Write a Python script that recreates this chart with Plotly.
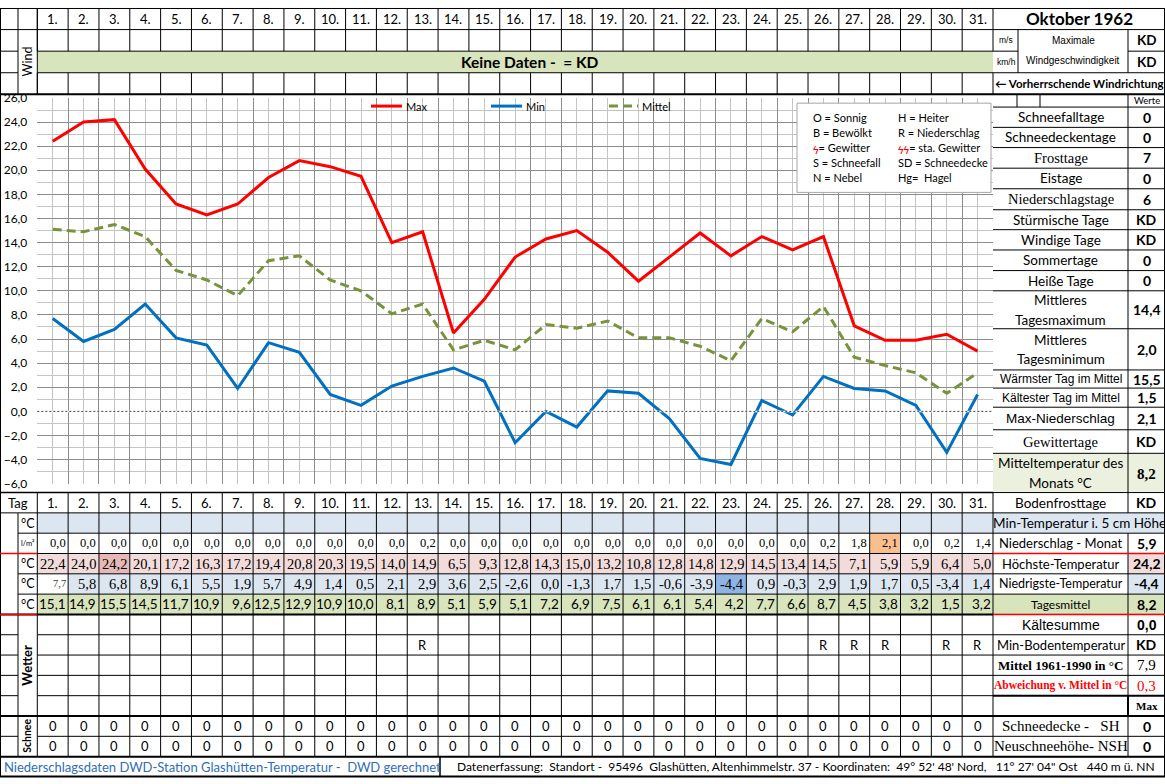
import plotly.graph_objects as go

W, H = 1165, 784

# ---------------- data ----------------
month_title = "Oktober 1962"
days = list(range(1, 32))
day_labels = [f"{d}." for d in days]
t_max = [22.4, 24.0, 24.2, 20.1, 17.2, 16.3, 17.2, 19.4, 20.8, 20.3, 19.5, 14.0, 14.9, 6.5, 9.3,
         12.8, 14.3, 15.0, 13.2, 10.8, 12.8, 14.8, 12.9, 14.5, 13.4, 14.5, 7.1, 5.9, 5.9, 6.4, 5.0]
t_min = [7.7, 5.8, 6.8, 8.9, 6.1, 5.5, 1.9, 5.7, 4.9, 1.4, 0.5, 2.1, 2.9, 3.6, 2.5,
         -2.6, 0.0, -1.3, 1.7, 1.5, -0.6, -3.9, -4.4, 0.9, -0.3, 2.9, 1.9, 1.7, 0.5, -3.4, 1.4]
t_mean = [15.1, 14.9, 15.5, 14.5, 11.7, 10.9, 9.6, 12.5, 12.9, 10.9, 10.0, 8.1, 8.9, 5.1, 5.9,
          5.1, 7.2, 6.9, 7.5, 6.1, 6.1, 5.4, 4.2, 7.7, 6.6, 8.7, 4.5, 3.8, 3.2, 1.5, 3.2]
precip = [0.0, 0.0, 0.0, 0.0, 0.0, 0.0, 0.0, 0.0, 0.0, 0.0, 0.0, 0.0, 0.2, 0.0, 0.0,
          0.0, 0.0, 0.0, 0.0, 0.0, 0.0, 0.0, 0.0, 0.0, 0.0, 0.2, 1.8, 2.1, 0.0, 0.2, 1.4]
weather = ["", "", "", "", "", "", "", "", "", "", "", "", "R", "", "",
           "", "", "", "", "", "", "", "", "", "", "R", "R", "R", "", "R", "R"]
snow_depth = [0, 0, 0, 0, 0, 0, 0, 0, 0, 0, 0, 0, 0, 0, 0, 0,
              0, 0, 0, 0, 0, 0, 0, 0, 0, 0, 0, 0, 0, 0, 0]
new_snow = [0, 0, 0, 0, 0, 0, 0, 0, 0, 0, 0, 0, 0, 0, 0, 0,
            0, 0, 0, 0, 0, 0, 0, 0, 0, 0, 0, 0, 0, 0, 0]

summary_up_labels = ["Schneefalltage", "Schneedeckentage", "Frosttage", "Eistage", "Niederschlagstage",
                     "Stürmische Tage", "Windige Tage", "Sommertage", "Heiße Tage",
                     "Mittleres<br>Tagesmaximum", "Mittleres<br>Tagesminimum",
                     "Wärmster Tag im Mittel", "Kältester Tag im Mittel", "Max-Niederschlag",
                     "Gewittertage", "Mitteltemperatur des<br>Monats °C", "Bodenfrosttage"]
summary_up_values = ["0", "0", "7", "0", "6", "KD", "KD", "0", "0", "14,4", "2,0",
                     "15,5", "1,5", "2,1", "KD", "8,2", "KD"]
summary_low_labels = ["Min-Temperatur i. 5 cm Höhe", "Niederschlag - Monat", "Höchste-Temperatur",
                      "Niedrigste-Temperatur", "Tagesmittel", "Kältesumme", "Min-Bodentemperatur",
                      "Mittel 1961-1990 in °C", "Abweichung v. Mittel in °C", "",
                      "Schneedecke -\u00a0\u00a0\u00a0SH", "Neuschneehöhe- NSH"]
summary_low_values = ["", "5,9", "24,2", "-4,4", "8,2", "0,0", "KD", "7,9", "0,3", "Max", "0", "0"]

legend_items = [("O = Sonnig", "H = Heiter"), ("B = Bewölkt", "R = Niederschlag"),
                ("<span style='color:#FF0000'>ϟ</span>= Gewitter",
                 "<span style='color:#FF0000'>ϟϟ</span>= sta. Gewitter"),
                ("S = Schneefall", "SD = Schneedecke"), ("N = Nebel", "Hg=\u00a0 Hagel")]
footer_left = "Niederschlagsdaten DWD-Station Glashütten-Temperatur -\u00a0 DWD gerechnet"
footer_right = ("Datenerfassung:\u00a0 Standort -\u00a0 95496\u00a0 Glashütten, Altenhimmelstr. 37 - "
                "Koordinaten:\u00a0 49° 52' 48' Nord,\u00a0\u00a0 11° 27' 04\" Ost\u00a0\u00a0 440 m ü. NN")

# ---------------- helpers ----------------
CAL = "Lato, 'Open Sans', sans-serif"
SER = "'Liberation Serif', 'DejaVu Serif', serif"
ARI = "'Liberation Sans', Arial, sans-serif"
shapes, ann = [], []


def X(x):
    return x / W


def Y(y):
    return 1 - y / H


def rect(x0, y0, x1, y1, fill, layer="below", border=None):
    shapes.append(dict(type="rect", xref="paper", yref="paper", x0=X(x0), x1=X(x1), y0=Y(y1), y1=Y(y0),
                       fillcolor=fill, layer=layer,
                       line=dict(width=1 if border else 0, color=border or "rgba(0,0,0,0)")))


def hl(y, x0, x1, color="#000", w=1):
    shapes.append(dict(type="line", xref="paper", yref="paper", x0=X(x0), x1=X(x1), y0=Y(y), y1=Y(y),
                       line=dict(color=color, width=w), layer="above"))


def vl(x, y0, y1, color="#000", w=1):
    shapes.append(dict(type="line", xref="paper", yref="paper", x0=X(x), x1=X(x), y0=Y(y0), y1=Y(y1),
                       line=dict(color=color, width=w), layer="above"))


def txt(x, y, s, size=13, color="#000", fam=CAL, xa="center", angle=0, bold=False):
    if s == "":
        return
    ann.append(dict(xref="paper", yref="paper", x=X(x), y=Y(y), text=f"<b>{s}</b>" if bold else s,
                    showarrow=False, xanchor=xa, yanchor="middle", textangle=angle,
                    font=dict(size=size, color=color, family=fam), borderpad=0))


def fmt(v):
    return f"{v:.1f}".replace(".", ",")


# column geometry
X0, X1 = 37.3, 993.0
CW = (X1 - X0) / 31
edges = [X0 + CW * i for i in range(32)]
cent = [X0 + CW * (i + 0.5) for i in range(31)]
RX0, RXV, RX1 = 993.0, 1128.0, 1164.5

# ---------------- top header ----------------
TY = [0, 22, 44, 66, 88]
rect(X0, TY[2], X1, TY[3], "#D8E4BC")
for e in edges:
    vl(e, TY[0], TY[2])
    vl(e, TY[3], TY[4])
vl(X0, 0, 88)
vl(18, 0, 88)
vl(0.5, 0, 784)
vl(RX1, 0, 784)
hl(0.5, 0, W)
hl(TY[1], 0, W)
hl(TY[2], 0, 18)
hl(TY[2], X0, X1)
hl(TY[2], RX0, 1018)
hl(TY[2], RXV, W)
hl(TY[3], 0, 18)
hl(TY[3], X0, W)
hl(TY[4], 0, W, w=2)
vl(1018, TY[1], TY[3])
vl(RXV, TY[1], TY[3])
for c, lab in zip(cent, day_labels):
    txt(c, 11, lab, 13)
txt(27.5, 55, "Wind", 12.5, angle=-90)
txt(530, 55, "Keine Daten -\u00a0 = KD", 15.5, bold=True)
txt(1079, 11, month_title, 17, bold=True)
txt(1006, 33, "m/s", 8.5, fam=ARI)
txt(1006, 55, "km/h", 8.5, fam=ARI)
txt(1073, 33, "Maximale", 10, fam=ARI)
txt(1073, 54, "Windgeschwindigkeit", 10, fam=ARI)
txt(1146.5, 33, "KD", 13.5, bold=True)
txt(1146.5, 55, "KD", 13.5, bold=True)
txt(1079, 77, "← Vorherrschende Windrichtung", 11.5, bold=True)

# ---------------- chart ----------------
fig = go.Figure()
fig.add_trace(go.Scatter(x=days, y=t_max, mode="lines", line=dict(color="#FF0000", width=3), name="Max"))
fig.add_trace(go.Scatter(x=days, y=t_min, mode="lines", line=dict(color="#0070C0", width=3), name="Min"))
fig.add_trace(go.Scatter(x=days, y=t_mean, mode="lines",
                         line=dict(color="#77933C", width=3, dash="9px,5px"), name="Mittel"))

# zero line dotted
shapes.append(dict(type="line", xref="paper", yref="y", x0=X(X0), x1=X(X1), y0=0, y1=0,
                   line=dict(color="#FFFFFF", width=1.5), layer="above"))
shapes.append(dict(type="line", xref="paper", yref="y", x0=X(X0), x1=X(X1), y0=0, y1=0,
                   line=dict(color="#404040", width=1, dash="2px,2px"), layer="above"))

# series legend
for (x0, x1, col, dash, lab) in [(371, 402, "#FF0000", None, "Max"), (491, 522, "#0070C0", None, "Min"),
                                 (609, 638, "#77933C", "9px,5px", "Mittel")]:
    shapes.append(dict(type="line", xref="paper", yref="paper", x0=X(x0), x1=X(x1), y0=Y(100), y1=Y(100),
                       line=dict(color=col, width=3, dash=dash) if dash else dict(color=col, width=3),
                       layer="above"))
    txt(x1 + 3, 100, lab, 11, xa="left")

# weather legend box
rect(797, 97, 991, 188, "#FFFFFF", layer="above", border="#A6A6A6")
for k, (a, b) in enumerate(legend_items):
    yy = 112 + k * 15.2
    txt(812, yy, a, 11, xa="left")
    txt(897, yy, b, 11, xa="left")

# ---------------- bottom table ----------------
RB = [494 + 20.71 * i for i in range(15)]
imax = t_max.index(max(t_max))
imin = t_min.index(min(t_min))
ipr = precip.index(max(precip))
for i in range(31):
    x0, x1 = edges[i], edges[i + 1]
    rect(x0, RB[1], x1, RB[2], "#DCE6F1")
    rect(x0, RB[3], x1, RB[4], "#E6B8B7" if i == imax else "#F2DCDB")
    rect(x0, RB[4], x1, RB[5], "#8DB4E2" if i == imin else ("#FFFFFF" if i == 0 else "#DCE6F1"))
    rect(x0, RB[5], x1, RB[6], "#D8E4BC")
    if i == ipr:
        rect(x0, RB[2], x1, RB[3], "#FABF8F")
for e in edges:
    vl(e, RB[0], RB[13])
vl(18, RB[1], RB[13])
hl(RB[0], 0, X1, w=1.5)
hl(RB[1], 0, X1)
for r in (2, 3, 4, 5):
    hl(RB[r], 18, X1)
hl(RB[3], 0, 37, color="#FF0000", w=1.5)
hl(RB[6], 0, X1, w=2)
hl(RB[6], 0, 37, color="#FF0000", w=1.5)
for r in (7, 8, 9, 10):
    hl(RB[r], 0, 18)
    hl(RB[r], X0, X1)
hl(RB[11], 0, X1, w=2)
hl(RB[12], 0, 18)
hl(RB[12], X0, X1)
hl(RB[13], 0, W, w=2)
hl(783.5, 0, W, w=2)
vl(440, RB[13], 784, w=1.5)

def rc(r):
    return (RB[r] + RB[r + 1]) / 2

txt(18, rc(0), "Tag", 13)
for r, u, s in [(1, "°C", 12.5), (2, "l/m²", 7.5), (3, "°C", 12.5), (4, "°C", 12.5), (5, "°C", 12.5)]:
    txt(27.5, rc(r), u, s)
txt(27.5, (RB[6] + RB[11]) / 2, "Wetter", 13, angle=-90, bold=True)
txt(27.5, (RB[11] + RB[13]) / 2, "Schnee", 10.5, angle=-90, bold=True)
for i in range(31):
    xr = edges[i + 1] - 1.5
    txt(cent[i], rc(0), day_labels[i], 13)
    txt(xr, rc(2), fmt(precip[i]), 12.5, fam=SER, xa="right")
    txt(xr, rc(3), fmt(t_max[i]), 14.5, fam=SER, xa="right")
    txt(xr, rc(4), fmt(t_min[i]), 10.5 if i == 0 else 14.5, fam=SER, xa="right",
        color="#404040" if i == 0 else "#000")
    txt(xr, rc(5), fmt(t_mean[i]), 13.5, xa="right")
    txt(cent[i], rc(7), weather[i], 13)
    txt(cent[i], rc(11), str(snow_depth[i]), 13)
    txt(cent[i], rc(12), str(new_snow[i]), 13)
txt(3, (RB[13] + 784) / 2, footer_left, 13, color="#2F6EB5", xa="left")
txt(456, (RB[13] + 784) / 2, footer_right, 12, xa="left")

# ---------------- right panel ----------------
RU = [101, 121.7, 142.3, 163.3, 184.3, 205.7, 226, 246.7, 267.7, 288.3, 327, 369, 387.5, 407, 430, 454,
      RB[0], RB[1]]
up_style = {"Frosttage": (SER, 14.5), "Niederschlagstage": (SER, 14.5), "Gewittertage": (SER, 14.5),
            "Wärmster Tag im Mittel": (ARI, 12), "Kältester Tag im Mittel": (ARI, 12),
            "Max-Niederschlag": (ARI, 13.5)}
rect(RX0, RU[15], RX1, RU[16], "#EBF1DE")
vl(1017, 88, 101)
vl(1040, 88, 101)
vl(RXV, 88, RB[1])
vl(RXV, RB[2], RB[13])
hl(101, RX0, W)
txt(1146.5, 94.5, "Werte", 9.5)
for k, (lab, val) in enumerate(zip(summary_up_labels, summary_up_values)):
    y0, y1 = RU[k], RU[k + 1]
    hl(y1, RX0, W)
    fam, sz = up_style.get(lab, (CAL, 13.5))
    parts = lab.split("<br>")
    if len(parts) == 1:
        txt(1060.5, (y0 + y1) / 2, lab, sz, fam=fam)
    else:
        m = (y0 + y1) / 2
        txt(1060.5, m - 10, parts[0], sz, fam=fam)
        txt(1060.5, m + 10, parts[1], sz, fam=fam)
    if "Mitteltemperatur" in lab:
        txt(1146.5, (y0 + y1) / 2 + 1, val, 15, fam=SER, bold=True)
    else:
        txt(1146.5, (y0 + y1) / 2, val, 14, bold=True)

low_style = {"Min-Temperatur i. 5 cm Höhe": (CAL, 13.5, "#000", False),
             "Niederschlag - Monat": (CAL, 13, "#000", False),
             "Höchste-Temperatur": (CAL, 13, "#000", False),
             "Niedrigste-Temperatur": (CAL, 12.5, "#000", False),
             "Tagesmittel": (CAL, 12, "#000", False),
             "Kältesumme": (ARI, 14, "#000", False),
             "Min-Bodentemperatur": (CAL, 13, "#000", False),
             "Mittel 1961-1990 in °C": (SER, 13, "#000", True),
             "Abweichung v. Mittel in °C": (SER, 11.5, "#FF0000", True)}
val_style = {"Mittel 1961-1990 in °C": (SER, 15, "#000", False),
             "Abweichung v. Mittel in °C": (SER, 15, "#FF0000", False),
             "": (SER, 11, "#000", True),
             "Kältesumme": (ARI, 14, "#000", True)}
fills = {"Min-Temperatur i. 5 cm Höhe": ("#DCE6F1", "#DCE6F1"),
         "Höchste-Temperatur": (None, "#F2DCDB"),
         "Niedrigste-Temperatur": (None, "#DCE6F1"),
         "Tagesmittel": ("#D8E4BC", "#D8E4BC")}
for k, (lab, val) in enumerate(zip(summary_low_labels, summary_low_values)):
    r = k + 1
    y0, y1 = RB[r], RB[r + 1]
    fl = fills.get(lab)
    if fl:
        if fl[0]:
            rect(RX0, y0, RXV, y1, fl[0])
        rect(RXV, y0, RX1, y1, fl[1])
    hl(y1, RX0, W, w=2 if r in (9, 10) else 1)
    if k == 0:
        txt(1079, (y0 + y1) / 2, lab, 13.5)
        continue
    fam, sz, col, bd = low_style.get(lab, (SER, 15, "#000", False))
    txt(1060.5, (y0 + y1) / 2, lab, sz, fam=fam, color=col, bold=bd)
    vf, vs, vc, vb = val_style.get(lab, (CAL, 14, "#000", True))
    txt(1146.5, (y0 + y1) / 2, val, vs, fam=vf, color=vc, bold=vb)
hl(RB[3], RX0, W, color="#FF0000", w=1.5)
hl(RB[6], RX0, W, color="#FF0000", w=1.5)
vl(RXV, RB[10], RB[11], w=2)

# ---------------- layout ----------------
fig.update_layout(
    width=W, height=H, margin=dict(l=0, r=0, t=0, b=0), autosize=False,
    paper_bgcolor="#FFFFFF", plot_bgcolor="#FFFFFF", showlegend=False, separators=",.",
    font=dict(family=CAL, color="#000"),
    xaxis=dict(domain=[X(X0), X(X1)], range=[0.5, 31.5], tick0=0.5, dtick=1, showgrid=True,
               gridcolor="#8C8C8C", gridwidth=1, showticklabels=False, ticks="", zeroline=False,
               minor=dict(tick0=0, dtick=0.5, showgrid=True, gridcolor="#C4C4C4", gridwidth=1)),
    yaxis=dict(domain=[Y(485), Y(91.7)], range=[-6, 26], tick0=0, dtick=2, tickformat=".1f",
               showgrid=True, gridcolor="#8C8C8C", gridwidth=1, zeroline=False, ticks="",
               ticklabelstandoff=9, tickfont=dict(size=12, family=CAL, color="#000"),
               minor=dict(dtick=1, showgrid=True, gridcolor="#C4C4C4", gridwidth=1)),
    shapes=shapes, annotations=ann,
)
fig.write_html("out.html", config={"displayModeBar": False},
               post_script="document.body.style.margin='0';document.body.style.overflow='hidden';")
